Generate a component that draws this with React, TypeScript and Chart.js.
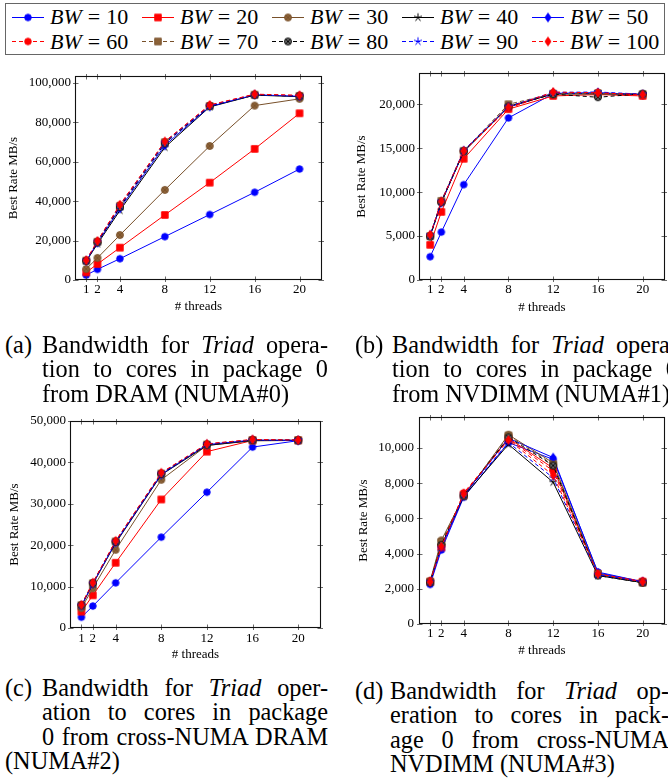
import React, { useEffect, useRef } from 'react';
import { Chart, registerables } from 'chart.js';

Chart.register(...registerables);
Chart.defaults.font.family = "'Liberation Serif', 'Times New Roman', serif";
Chart.defaults.color = '#000';

// ---------------- data ----------------
const THREADS = [1, 2, 4, 8, 12, 16, 20];
const X_TICKS = [1, 2, 4, 8, 12, 16, 20];
const BW_SIZES = [10, 20, 30, 40, 50, 60, 70, 80, 90, 100];

// (a) DRAM NUMA#0 — one row per BW value, one column per thread count
const NUMA0_DRAM: number[][] = [
  [2500, 5400, 10800, 22000, 33200, 44500, 56300],
  [3900, 8100, 16400, 33000, 49400, 66500, 84600],
  [5600, 11200, 22800, 45700, 68000, 88500, 91900],
  [9500, 18300, 35300, 67300, 87800, 93800, 93000],
  [9700, 18900, 36300, 68300, 88000, 94000, 93200],
  [10100, 19700, 38200, 70100, 88700, 94200, 93600],
  [9800, 19400, 37500, 69900, 88300, 94000, 93400],
  [9700, 19100, 37000, 69300, 88200, 93800, 93300],
  [9900, 19500, 37700, 69700, 88400, 94100, 93400],
  [10000, 19800, 38100, 70300, 88800, 94300, 93700],
];

// (b) NVDIMM NUMA#1
const NUMA1_NVDIMM: number[][] = [
  [2650, 5450, 10850, 18450, 21200, 21300, 21100],
  [4000, 7750, 13800, 19450, 20950, 21100, 20950],
  [5000, 8900, 14650, 19800, 21150, 21200, 21100],
  [5050, 8850, 14600, 19700, 21200, 21200, 21150],
  [5100, 8800, 14700, 19700, 21250, 21300, 21100],
  [5050, 8900, 14650, 19550, 21300, 21350, 21000],
  [5000, 9000, 14700, 20000, 21200, 21250, 21150],
  [4950, 8850, 14650, 19750, 21150, 20800, 21200],
  [5100, 8950, 14750, 19750, 21350, 21400, 21150],
  [5150, 8950, 14700, 19650, 21400, 21300, 21100],
];

// (c) cross-NUMA DRAM NUMA#2
const NUMA2_XDRAM: number[][] = [
  [2600, 5300, 10900, 21950, 32800, 43700, 45250],
  [3950, 7900, 15750, 31050, 42600, 45300, 45350],
  [4800, 9600, 18900, 35800, 44100, 45200, 45300],
  [5300, 10600, 20500, 37000, 44100, 45300, 45350],
  [5400, 10700, 20700, 37100, 44300, 45400, 45300],
  [5600, 10900, 21000, 37400, 44400, 45500, 45400],
  [5500, 10800, 20900, 37300, 44300, 45400, 45350],
  [5500, 10800, 20800, 37200, 44300, 45400, 45350],
  [5500, 10750, 20850, 37300, 44400, 45450, 45400],
  [5600, 10950, 21050, 37500, 44500, 45550, 45400],
];

// (d) cross-NUMA NVDIMM NUMA#3
const NUMA3_XNVDIMM: number[][] = [
  [2250, 4200, 7200, 10300, 9350, 2950, 2400],
  [2400, 4350, 7350, 10550, 8850, 2850, 2400],
  [2450, 4750, 7250, 10750, 9150, 2800, 2350],
  [2400, 4450, 7250, 10200, 8050, 2750, 2350],
  [2350, 4350, 7300, 10550, 9450, 2900, 2400],
  [2450, 4400, 7450, 10500, 8700, 2800, 2450],
  [2400, 4650, 7300, 10700, 9050, 2850, 2350],
  [2350, 4500, 7300, 10600, 9000, 2750, 2350],
  [2400, 4300, 7350, 10300, 8300, 2800, 2400],
  [2400, 4400, 7400, 10450, 8450, 2850, 2400],
];

const NUMA0_Y_TICKS = [0, 20000, 40000, 60000, 80000, 100000];
const NUMA1_Y_TICKS = [0, 5000, 10000, 15000, 20000];
const NUMA2_Y_TICKS = [0, 10000, 20000, 30000, 40000, 50000];
const NUMA3_Y_TICKS = [0, 2000, 4000, 6000, 8000, 10000];

// ---------------- styles ----------------
type MarkKind = 'circle' | 'square' | 'otimes' | 'star' | 'diamond';
const BLUE = 'rgb(0,0,255)';
const RED = 'rgb(255,0,0)';
const BROWN = 'rgb(120,80,42)';
const BROWN_FILL = 'rgb(140,98,56)';
const BLACK = '#000';

const STYLES: { color: string; fill: string; dash: boolean; mark: MarkKind }[] = [
  { color: BLUE, fill: BLUE, dash: false, mark: 'circle' },
  { color: RED, fill: RED, dash: false, mark: 'square' },
  { color: BROWN, fill: BROWN_FILL, dash: false, mark: 'otimes' },
  { color: BLACK, fill: BLACK, dash: false, mark: 'star' },
  { color: BLUE, fill: BLUE, dash: false, mark: 'diamond' },
  { color: RED, fill: RED, dash: true, mark: 'circle' },
  { color: BROWN, fill: BROWN_FILL, dash: true, mark: 'square' },
  { color: BLACK, fill: 'rgb(105,105,105)', dash: true, mark: 'otimes' },
  { color: BLUE, fill: BLUE, dash: true, mark: 'star' },
  { color: RED, fill: RED, dash: true, mark: 'diamond' },
];
const DASH = [4, 3];

const markCache = new Map<string, HTMLCanvasElement>();
function makeMark(kind: MarkKind, stroke: string, fill: string): HTMLCanvasElement {
  const key = kind + '|' + stroke + '|' + fill;
  const hit = markCache.get(key);
  if (hit) return hit;
  const c = document.createElement('canvas');
  c.width = 12;
  c.height = 12;
  const g = c.getContext('2d')!;
  g.translate(6, 6);
  g.lineWidth = 0.9;
  g.strokeStyle = stroke;
  g.fillStyle = fill;
  g.beginPath();
  if (kind === 'circle') {
    g.arc(0, 0, 3.3, 0, Math.PI * 2);
    g.fill();
    g.stroke();
  } else if (kind === 'square') {
    g.rect(-3.3, -3.3, 6.6, 6.6);
    g.fill();
    g.stroke();
  } else if (kind === 'diamond') {
    g.moveTo(0, -4.4);
    g.lineTo(3.0, 0);
    g.lineTo(0, 4.4);
    g.lineTo(-3.0, 0);
    g.closePath();
    g.fill();
    g.stroke();
  } else if (kind === 'otimes') {
    g.arc(0, 0, 3.5, 0, Math.PI * 2);
    g.fill();
    g.stroke();
    g.beginPath();
    const d = 3.5 * Math.SQRT1_2;
    g.moveTo(-d, -d);
    g.lineTo(d, d);
    g.moveTo(d, -d);
    g.lineTo(-d, d);
    g.stroke();
  } else {
    for (let k = 0; k < 5; k++) {
      const a = -Math.PI / 2 + (k * 2 * Math.PI) / 5;
      g.moveTo(0, 0);
      g.lineTo(4.2 * Math.cos(a), 4.2 * Math.sin(a));
    }
    g.lineWidth = 1;
    g.stroke();
  }
  markCache.set(key, c);
  return c;
}

// ---------------- frame / ticks plugin ----------------
const framePlugin = {
  id: 'pgfFrame',
  afterDraw(chart: any) {
    const { ctx, chartArea } = chart;
    const { left, right, top, bottom } = chartArea;
    const x = chart.scales.x;
    const y = chart.scales.y;
    ctx.save();
    ctx.strokeStyle = '#444';
    ctx.lineWidth = 0.8;
    ctx.beginPath();
    for (const t of x.ticks) {
      const px = Math.round(x.getPixelForValue(t.value)) + 0.5;
      ctx.moveTo(px, bottom + 2);
      ctx.lineTo(px, bottom - 3.5);
      ctx.moveTo(px, top - 2);
      ctx.lineTo(px, top + 3.5);
    }
    for (const t of y.ticks) {
      const py = Math.round(y.getPixelForValue(t.value)) + 0.5;
      ctx.moveTo(left - 2, py);
      ctx.lineTo(left + 3.5, py);
      ctx.moveTo(right + 2, py);
      ctx.lineTo(right - 3.5, py);
    }
    ctx.stroke();
    ctx.strokeStyle = '#111';
    ctx.lineWidth = 1.1;
    ctx.strokeRect(Math.round(left) + 0.5, Math.round(top) + 0.5, Math.round(right - left) - 1, Math.round(bottom - top) - 1);
    ctx.restore();
  },
};

// ---------------- panels ----------------
interface Panel {
  left: number;
  top: number;
  width: number;
  height: number;
  series: number[][];
  yMax: number;
  yTicks: number[];
  padTop: number;
  padRight: number;
  yAxisW: number;
  xAxisH: number;
  yTitlePad: number;
  yTickPad: number;
  xTickPad: number;
  xTitlePad: number;
}

const PANELS: Panel[] = [
  { left: 0, top: 60, width: 334, height: 260, series: NUMA0_DRAM, yMax: 103500, yTicks: NUMA0_Y_TICKS,
    padTop: 16, padRight: 12, yAxisW: 75, xAxisH: 40, yTitlePad: 6, yTickPad: 4, xTickPad: 1.5, xTitlePad: 5.5 },
  { left: 334, top: 60, width: 336, height: 260, series: NUMA1_NVDIMM, yMax: 23560, yTicks: NUMA1_Y_TICKS,
    padTop: 13, padRight: 1, yAxisW: 85, xAxisH: 40, yTitlePad: 20, yTickPad: 4, xTickPad: 2.2, xTitlePad: 4.9 },
  { left: 0, top: 400, width: 334, height: 265, series: NUMA2_XDRAM, yMax: 50000, yTicks: NUMA2_Y_TICKS,
    padTop: 21, padRight: 13, yAxisW: 70, xAxisH: 37, yTitlePad: 7, yTickPad: 4, xTickPad: 2.5, xTitlePad: 2.2 },
  { left: 334, top: 400, width: 336, height: 265, series: NUMA3_XNVDIMM, yMax: 11755, yTicks: NUMA3_Y_TICKS,
    padTop: 17, padRight: 1, yAxisW: 85, xAxisH: 41, yTitlePad: 21.5, yTickPad: 5, xTickPad: 1.9, xTitlePad: 6.5 },
];

function buildConfig(p: Panel): any {
  const n = p.series.length;
  return {
    type: 'line',
    data: {
      datasets: p.series.map((vals, i) => ({
        label: 'BW = ' + BW_SIZES[i],
        data: THREADS.map((t, k) => ({ x: t, y: vals[k] })),
        borderColor: STYLES[i].color,
        backgroundColor: STYLES[i].fill,
        borderWidth: 1,
        borderDash: STYLES[i].dash ? DASH : [],
        pointStyle: makeMark(STYLES[i].mark, STYLES[i].color, STYLES[i].fill),
        pointRadius: 4,
        fill: false,
        tension: 0,
        order: n - i,
      })),
    },
    options: {
      animation: false,
      responsive: false,
      maintainAspectRatio: false,
      events: [],
      layout: { padding: { left: 0, top: p.padTop, right: p.padRight, bottom: 0 } },
      plugins: { legend: { display: false }, tooltip: { enabled: false } },
      scales: {
        x: {
          type: 'linear',
          min: 0,
          max: 22,
          afterBuildTicks: (s: any) => {
            s.ticks = X_TICKS.map((v) => ({ value: v }));
          },
          afterFit: (s: any) => {
            s.height = p.xAxisH;
          },
          grid: { display: false, drawTicks: false },
          border: { display: false },
          ticks: { padding: p.xTickPad, font: { size: 13 }, color: '#000', maxRotation: 0, autoSkip: false },
          title: { display: true, text: '# threads', font: { size: 13 }, color: '#000', padding: { top: 0, bottom: p.xTitlePad } },
        },
        y: {
          type: 'linear',
          min: 0,
          max: p.yMax,
          afterBuildTicks: (s: any) => {
            s.ticks = p.yTicks.map((v) => ({ value: v }));
          },
          afterFit: (s: any) => {
            s.width = p.yAxisW;
          },
          grid: { display: false, drawTicks: false },
          border: { display: false },
          ticks: {
            padding: p.yTickPad,
            font: { size: 13 },
            color: '#000',
            callback: (v: any) => Number(v).toLocaleString('en-US'),
          },
          title: { display: true, text: 'Best Rate MB/s', font: { size: 13 }, color: '#000', padding: { top: p.yTitlePad, bottom: 0 } },
        },
      },
    },
    plugins: [framePlugin],
  };
}

function ChartPanel({ p }: { p: Panel }) {
  const ref = useRef<HTMLCanvasElement>(null);
  useEffect(() => {
    const chart = new Chart(ref.current as HTMLCanvasElement, buildConfig(p));
    return () => chart.destroy();
  }, [p]);
  return (
    <canvas
      ref={ref}
      width={p.width}
      height={p.height}
      style={{ position: 'absolute', left: p.left, top: p.top, width: p.width, height: p.height }}
    />
  );
}

// ---------------- legend ----------------
function LegendSample({ i }: { i: number }) {
  const ref = useRef<HTMLCanvasElement>(null);
  useEffect(() => {
    const c = ref.current!;
    const g = c.getContext('2d')!;
    g.clearRect(0, 0, c.width, c.height);
    g.strokeStyle = STYLES[i].color;
    g.lineWidth = 1;
    g.setLineDash(STYLES[i].dash ? DASH : []);
    g.beginPath();
    g.moveTo(0, 7.5);
    g.lineTo(32, 7.5);
    g.stroke();
    const m = makeMark(STYLES[i].mark, STYLES[i].color, STYLES[i].fill);
    g.drawImage(m, 16 - 6, 7.5 - 6);
  }, [i]);
  return <canvas ref={ref} width={32} height={15} style={{ position: 'absolute', left: 0, top: -7.5 }} />;
}

function Legend() {
  const rows = [16, 40.7];
  return (
    <div
      style={{
        position: 'absolute',
        left: 5,
        top: 3,
        width: 660,
        height: 52,
        boxSizing: 'border-box',
        border: '1.5px solid #666',
      }}
    >
      {BW_SIZES.map((bw, i) => {
        const col = i % 5;
        const row = Math.floor(i / 5);
        const x = 11 + 130 * col - 5;
        const y = rows[row] - 3;
        return (
          <div key={bw} style={{ position: 'absolute', left: x, top: y, width: 125, height: 0 }}>
            <LegendSample i={i} />
            <div
              style={{
                position: 'absolute',
                left: 38,
                top: -11.2,
                fontFamily: "'Liberation Serif', serif",
                fontSize: 22,
                lineHeight: '22px',
                whiteSpace: 'nowrap',
                color: '#000',
              }}
            >
              <i>BW</i>
              <span style={{ margin: '0 6px' }}>=</span>
              {bw}
            </div>
          </div>
        );
      })}
    </div>
  );
}

// ---------------- captions ----------------
const CAP_FONT = 24.3;
const CAP_LH = 24.5;

function CapLine({ left, top, width, justify, children }: { left: number; top: number; width?: number; justify?: boolean; children: React.ReactNode }) {
  return (
    <div
      style={{
        position: 'absolute',
        left,
        top,
        width: width ?? 'auto',
        whiteSpace: justify ? 'normal' : 'nowrap',
        textAlign: justify ? 'justify' : 'left',
        textAlignLast: justify ? 'justify' : 'auto',
        fontFamily: "'Liberation Serif', 'Times New Roman', serif",
        fontSize: CAP_FONT,
        lineHeight: CAP_LH + 'px',
        color: '#000',
      }}
    >
      {children}
    </div>
  );
}

function Captions() {
  const W = 286;
  const WD = 279;
  const a0 = 345 - 12.4;
  const c0 = 688 - 12.4;
  const d0 = 691 - 12.4;
  return (
    <>
      {/* (a) */}
      <CapLine left={5} top={a0}>(a)</CapLine>
      <CapLine left={42} top={a0} width={W} justify>
        Bandwidth for <i>Triad</i> opera-
      </CapLine>
      <CapLine left={42} top={a0 + CAP_LH} width={W} justify>
        tion to cores in package 0
      </CapLine>
      <CapLine left={42} top={a0 + 2 * CAP_LH}>from DRAM (NUMA#0)</CapLine>

      {/* (b) */}
      <CapLine left={355} top={a0}>(b)</CapLine>
      <CapLine left={392} top={a0} width={W} justify>
        Bandwidth for <i>Triad</i> opera-
      </CapLine>
      <CapLine left={392} top={a0 + CAP_LH} width={W} justify>
        tion to cores in package 0
      </CapLine>
      <CapLine left={392} top={a0 + 2 * CAP_LH}>from NVDIMM (NUMA#1)</CapLine>

      {/* (c) */}
      <CapLine left={5} top={c0}>(c)</CapLine>
      <CapLine left={42} top={c0} width={W} justify>
        Bandwidth for <i>Triad</i> oper-
      </CapLine>
      <CapLine left={42} top={c0 + CAP_LH} width={W} justify>
        ation to cores in package
      </CapLine>
      <CapLine left={42} top={c0 + 2 * CAP_LH} width={W} justify>
        0 from cross-NUMA DRAM
      </CapLine>
      <CapLine left={5} top={c0 + 3 * CAP_LH}>(NUMA#2)</CapLine>

      {/* (d) */}
      <CapLine left={355} top={d0}>(d)</CapLine>
      <CapLine left={390} top={d0} width={WD} justify>
        Bandwidth for <i>Triad</i> op-
      </CapLine>
      <CapLine left={390} top={d0 + CAP_LH} width={WD} justify>
        eration to cores in pack-
      </CapLine>
      <CapLine left={390} top={d0 + 2 * CAP_LH} width={WD} justify>
        age 0 from cross-NUMA
      </CapLine>
      <CapLine left={390} top={d0 + 3 * CAP_LH}>NVDIMM (NUMA#3)</CapLine>
    </>
  );
}

export default function App() {
  return (
    <div
      style={{
        position: 'absolute',
        left: 0,
        top: 0,
        width: 668,
        height: 784,
        overflow: 'hidden',
        background: '#fff',
      }}
    >
      <Legend />
      {PANELS.map((p, i) => (
        <ChartPanel key={i} p={p} />
      ))}
      <Captions />
    </div>
  );
}
